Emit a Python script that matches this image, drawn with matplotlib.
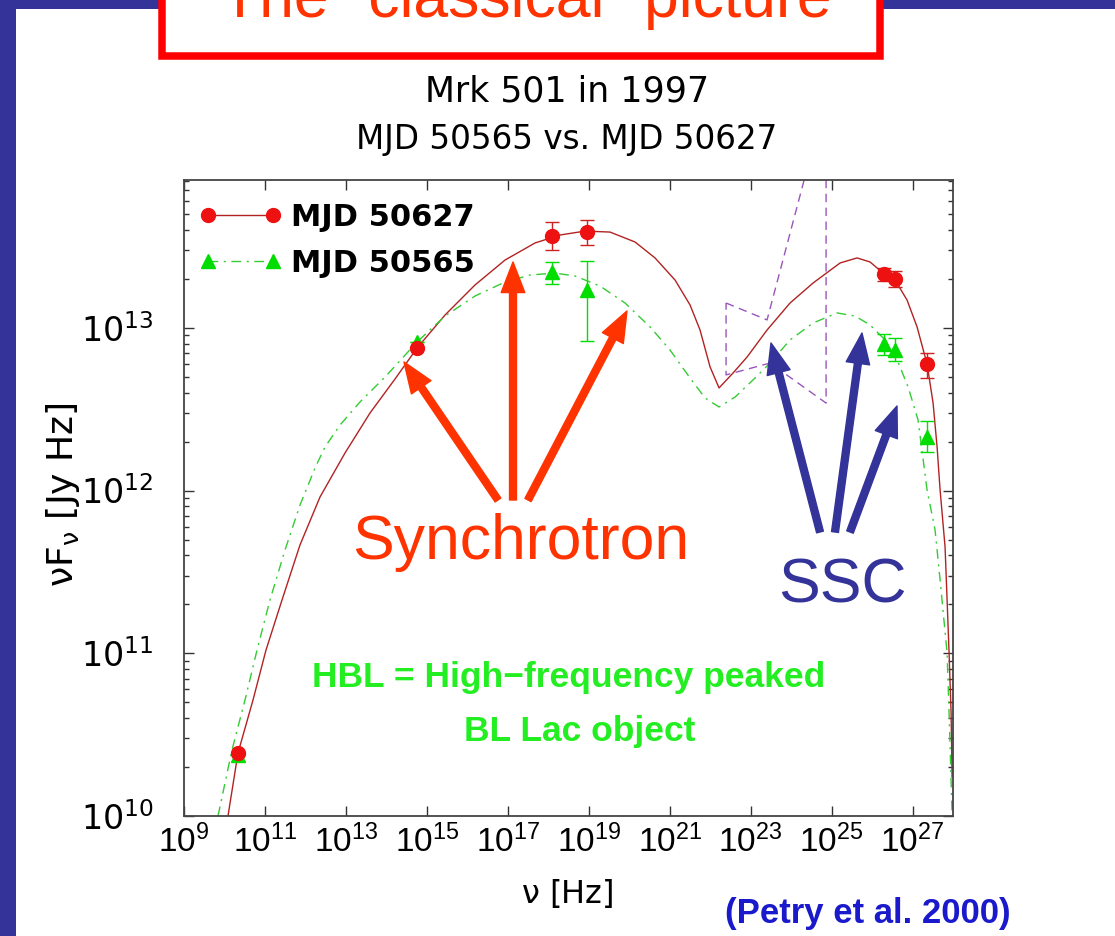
import numpy as np
import matplotlib
matplotlib.use("Agg")
import matplotlib.pyplot as plt
from matplotlib.lines import Line2D
from matplotlib.patches import Rectangle, FancyArrowPatch, ArrowStyle
from matplotlib.ticker import NullLocator

W, H = 1115, 936

# measured fluxes (nu in Hz, nuFnu in Jy Hz)
nu_obs = [2.16e10, 5.71e14, 1.24e18, 9.08e18, 1.95e26, 3.71e26, 2.34e27]

flux_50627 = [2.44e10, 7.52e12, 3.67e13, 3.88e13, 2.14e13, 2.00e13, 6.00e12]
lo_50627 = [2.44e10, 7.52e12, 3.01e13, 3.24e13, 1.94e13, 1.78e13, 4.92e12]
hi_50627 = [2.44e10, 7.52e12, 4.48e13, 4.60e13, 2.33e13, 2.23e13, 7.01e12]

flux_50565 = [2.37e10, 8.18e12, 2.21e13, 1.71e13, 7.96e12, 7.31e12, 2.13e12]
lo_50565 = [2.37e10, 8.18e12, 1.86e13, 8.30e12, 6.81e12, 6.27e12, 1.73e12]
hi_50565 = [2.37e10, 8.18e12, 2.54e13, 2.58e13, 9.18e12, 8.67e12, 2.68e12]

# SSC model curves, log10(nu) / log10(nuFnu)
model_lognu_50627 = [10.087, 10.334, 10.705, 11.026, 11.422, 11.866, 12.361, 12.978,
                     13.596, 14.214, 14.757, 15.449, 16.191, 16.932, 17.673, 18.291,
                     18.909, 19.526, 20.144, 20.638, 21.133, 21.503, 21.750, 21.998,
                     22.220, 22.566, 22.912, 23.406, 23.974, 24.543, 25.210, 25.630,
                     25.951, 26.272, 26.569, 26.865, 27.112, 27.359, 27.508, 27.607,
                     27.681, 27.804, 27.854, 27.903, 27.953, 27.977]
model_logf_50627 = [10.000, 10.387, 10.713, 11.020, 11.328, 11.666, 11.961, 12.231,
                    12.477, 12.686, 12.876, 13.079, 13.264, 13.417, 13.522, 13.571,
                    13.595, 13.589, 13.528, 13.430, 13.294, 13.141, 12.987, 12.760,
                    12.631, 12.723, 12.821, 12.987, 13.153, 13.276, 13.399, 13.430,
                    13.405, 13.337, 13.294, 13.171, 13.006, 12.778, 12.538, 12.268,
                    12.004, 11.653, 11.328, 11.002, 10.633, 10.240]

model_lognu_50565 = [9.840, 10.186, 10.507, 10.804, 11.125, 11.496, 11.866, 12.237,
                     12.484, 12.855, 13.349, 13.967, 14.757, 15.449, 16.191, 16.932,
                     17.550, 18.167, 18.661, 19.279, 19.897, 20.515, 21.009, 21.503,
                     21.874, 22.220, 22.615, 23.109, 23.480, 23.974, 24.543, 25.136,
                     25.580, 25.951, 26.322, 26.643, 26.890, 27.137, 27.359, 27.557,
                     27.681, 27.854, 27.903, 27.977]
model_logf_50565 = [10.000, 10.406, 10.713, 11.020, 11.328, 11.635, 11.911, 12.139,
                    12.268, 12.403, 12.545, 12.698, 12.913, 13.073, 13.196, 13.282,
                    13.325, 13.337, 13.319, 13.257, 13.153, 13.006, 12.864, 12.692,
                    12.569, 12.514, 12.575, 12.692, 12.784, 12.926, 13.030, 13.092,
                    13.073, 13.018, 12.926, 12.790, 12.637, 12.434, 12.004, 11.758,
                    11.451, 11.002, 10.633, 10.018]

# gamma-ray bow tie outline
bowtie_lognu = [22.393, 23.406, 24.518, 24.864, 24.864, 23.480, 22.393, 22.393]
bowtie_logf = [13.153, 13.049, 14.093, 14.093, 12.538, 12.784, 12.711, 13.153]

xtick_exp = list(range(9, 28, 2))
ytick_exp = [10, 11, 12, 13]


def fpos(x, y):
    # pixel position -> figure fraction
    return x / W, 1 - y / H


fig = plt.figure(figsize=(W / 100, H / 100), dpi=100)
fig.patch.set_facecolor("white")

# slide frame
fig.add_artist(Rectangle((0, 0), 16 / W, 1, transform=fig.transFigure,
                         facecolor="#333399", edgecolor="none"))
fig.add_artist(Rectangle(fpos(0, 9), 1, 9 / H, transform=fig.transFigure,
                         facecolor="#333399", edgecolor="none"))
fig.add_artist(Rectangle(fpos(162, 56), (880 - 162) / W, 80 / H, transform=fig.transFigure,
                         facecolor="white", edgecolor="#ff0000", linewidth=5.4))
fig.text(*fpos(526, 17), 'The "classical" picture', ha="center", va="baseline",
         fontsize=45, color="#ff3300", family="Liberation Sans")

ax = fig.add_axes([184 / W, 1 - 816 / H, (953 - 184) / W, (816 - 180) / H])
ax.set_xscale("log")
ax.set_yscale("log")
ax.set_xlim(1e9, 1e28)
ax.set_ylim(1e10, 10 ** 13.909)

ax.plot(10 ** np.array(model_lognu_50627), 10 ** np.array(model_logf_50627),
        color="#b22222", lw=1.0)
ax.plot(10 ** np.array(model_lognu_50565), 10 ** np.array(model_logf_50565),
        color="#33cc33", lw=1.0, linestyle=(0, (7, 4, 1.5, 4)))
ax.plot(10 ** np.array(bowtie_lognu), 10 ** np.array(bowtie_logf),
        color="#9955bb", lw=1.0, linestyle=(0, (6, 4)))

f1 = np.array(flux_50627)
f2 = np.array(flux_50565)
ax.errorbar(nu_obs, f2, yerr=[f2 - np.array(lo_50565), np.array(hi_50565) - f2],
            fmt="^", color="#00dd00", ms=10, mec="#00dd00", elinewidth=1.0,
            capsize=5, capthick=1.0, zorder=4)
ax.errorbar(nu_obs, f1, yerr=[f1 - np.array(lo_50627), np.array(hi_50627) - f1],
            fmt="o", color="#ee1111", ms=10, mec="#ee1111", ecolor="#cc2222",
            elinewidth=1.0, capsize=5, capthick=1.0, zorder=5)

ax.set_xticks([10.0 ** e for e in xtick_exp],
              labels=[r"$\mathregular{10^{%d}}$" % e for e in xtick_exp],
              fontsize=24, family="Liberation Sans")
ax.xaxis.set_minor_locator(NullLocator())
ax.set_yticks([10.0 ** e for e in ytick_exp],
              labels=[r"$\mathregular{10^{%d}}$" % e for e in ytick_exp],
              fontsize=24, family="DejaVu Sans")
ax.set_yticks([m * 10.0 ** e for e in range(10, 14) for m in range(2, 10)
               if m * 10.0 ** e < 10 ** 13.909], minor=True)
ax.tick_params(which="both", direction="in", top=True, right=True, color="#333333")
ax.tick_params(which="major", length=7, width=1.0)
ax.tick_params(which="minor", length=3.4, width=1.0)
ax.tick_params(axis="x", pad=6)
ax.tick_params(axis="y", pad=22)
for s in ax.spines.values():
    s.set_color("#444444")
    s.set_linewidth(1.3)

handles = [
    Line2D([], [], color="#b22222", lw=1.0, marker="o", ms=10,
           mfc="#ee1111", mec="#ee1111"),
    Line2D([], [], color="#33cc33", lw=1.0, linestyle=(0, (7, 4, 1.5, 4)),
           marker="^", ms=10, mfc="#00dd00", mec="#00dd00"),
]
ax.legend(handles, ["MJD 50627", "MJD 50565"], loc="upper left",
          bbox_to_anchor=fpos(199, 203), bbox_transform=fig.transFigure,
          frameon=False, numpoints=2, handlelength=2.72, handletextpad=0.3,
          borderpad=0, borderaxespad=0, labelspacing=0.55,
          prop={"family": "DejaVu Sans", "weight": "bold", "size": 22})

# titles and axis labels
fig.text(*fpos(567, 91), "Mrk 501 in 1997", ha="center", va="center",
         fontsize=25, family="DejaVu Sans")
fig.text(*fpos(567, 139), "MJD 50565 vs. MJD 50627", ha="center", va="center",
         fontsize=23.5, family="DejaVu Sans")
fig.text(*fpos(567, 893), r"$\mathregular{\nu}$ [Hz]", ha="center", va="center",
         fontsize=23, family="DejaVu Sans")
fig.text(*fpos(63, 495), r"$\mathregular{\nu F_{\nu}}$ [Jy Hz]", ha="center",
         va="center", rotation=90, fontsize=26, family="DejaVu Sans")

fig.text(*fpos(569, 678), "HBL = High\u2212frequency peaked", ha="center", va="center",
         fontsize=25.5, fontweight="bold", color="#22ee22", family="Liberation Sans")
fig.text(*fpos(580, 732), "BL Lac object", ha="center", va="center",
         fontsize=25.5, fontweight="bold", color="#22ee22", family="Liberation Sans")
fig.text(*fpos(868, 913), "(Petry et al. 2000)", ha="center", va="center",
         fontsize=25, fontweight="bold", color="#1a1acc", family="Liberation Sans")

fig.text(*fpos(521, 542), "Synchrotron", ha="center", va="center",
         fontsize=45, color="#ff3300", family="Liberation Sans")
fig.text(*fpos(842, 586), "SSC", ha="center", va="center",
         fontsize=45, color="#333399", family="Liberation Sans")

arrow_style = ArrowStyle.Simple(head_length=22, head_width=17, tail_width=5)
red_arrows = [((498, 500), (404, 362)), ((513, 500), (513, 262)), ((528, 500), (627, 311))]
blue_arrows = [((820, 532), (771, 343)), ((835, 532), (862, 333)), ((850, 532), (897, 406))]
for arrows, col in ((red_arrows, "#ff3300"), (blue_arrows, "#333399")):
    for tail, head in arrows:
        fig.add_artist(FancyArrowPatch(fpos(*tail), fpos(*head), transform=fig.transFigure,
                                       arrowstyle=arrow_style, mutation_scale=1,
                                       color=col, shrinkA=0, shrinkB=0))

fig.savefig("out.png", dpi=100)
